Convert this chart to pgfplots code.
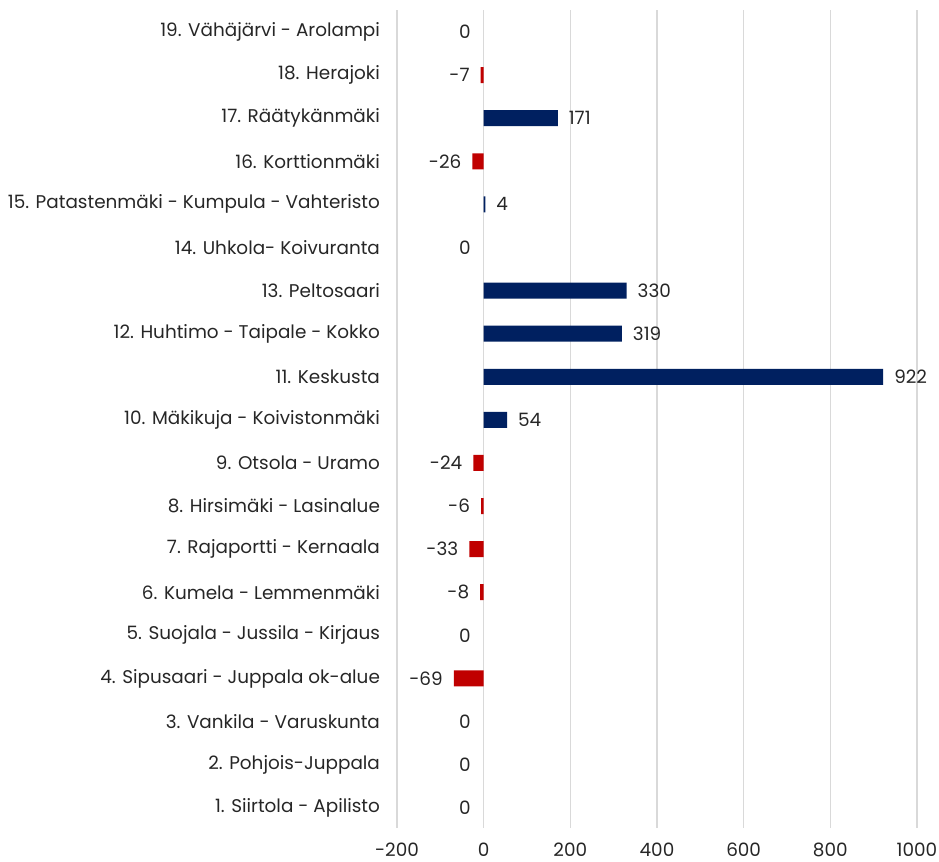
\documentclass[border=0pt]{standalone}
\usepackage{pgfplots}
\pgfplotsset{compat=1.18}
\usepackage{fontspec}
\setmainfont{Poppins}
\definecolor{navy}{HTML}{002060}
\definecolor{redbar}{HTML}{C00000}
\definecolor{gridc}{HTML}{D9D9D9}
\definecolor{txt}{HTML}{262626}
\begin{document}
\begin{tikzpicture}
\useasboundingbox (-198.5pt,-16.8pt) rectangle (271pt,414pt);
\begin{axis}[
  scale only axis,
  width=260pt, height=409pt,
  xmin=-200, xmax=1000,
  ymin=0.53, ymax=19.51,
  xtick={-200,0,...,1000},
  ytick={1,...,19},
  yticklabels={{1. Siirtola - Apilisto},{2. Pohjois-Juppala},{3. Vankila - Varuskunta},{4. Sipusaari - Juppala ok-alue},{5. Suojala - Jussila - Kirjaus},{6. Kumela - Lemmenmäki},{7. Rajaportti - Kernaala},{8. Hirsimäki - Lasinalue},{9. Otsola - Uramo},{10. Mäkikuja - Koivistonmäki},{11. Keskusta},{12. Huhtimo - Taipale - Kokko},{13. Peltosaari},{14. Uhkola- Koivuranta},{15. Patastenmäki - Kumpula - Vahteristo},{16. Korttionmäki},{17. Räätykänmäki},{18. Herajoki},{19. Vähäjärvi - Arolampi}},
  axis line style={draw=none},
  major tick length=0pt,
  xmajorgrids, grid style={gridc, line width=0.8pt},
  ymajorgrids=false,
  /pgf/number format/assume math mode=true,
  /pgf/number format/1000 sep={},
  tick label style={font=\fontsize{9.2}{11}\selectfont, text=txt},
  yticklabel style={anchor=east, xshift=-5pt},
  xticklabel style={anchor=north, yshift=-4pt},
  xbar, bar width=8pt, bar shift=0pt,
  clip=false,
  nodes near coords,
  nodes near coords style={font=\fontsize{9.2}{11}\selectfont, text=txt},
]
\addplot[fill=navy, draw=none, nodes near coords style={anchor=west, xshift=2pt}] coordinates {
(54,10) (922,11) (319,12) (330,13) (4,15) (171,17)};
\addplot[fill=redbar, draw=none, nodes near coords style={anchor=east, xshift=-2pt}] coordinates {
(-69,4) (-8,6) (-33,7) (-6,8) (-24,9) (-26,16) (-7,18)};
\addplot[fill=none, draw=none, nodes near coords style={anchor=east, xshift=-3pt}] coordinates {
(0,1) (0,2) (0,3) (0,5) (0,14) (0,19)};
\end{axis}
\end{tikzpicture}
\end{document}
